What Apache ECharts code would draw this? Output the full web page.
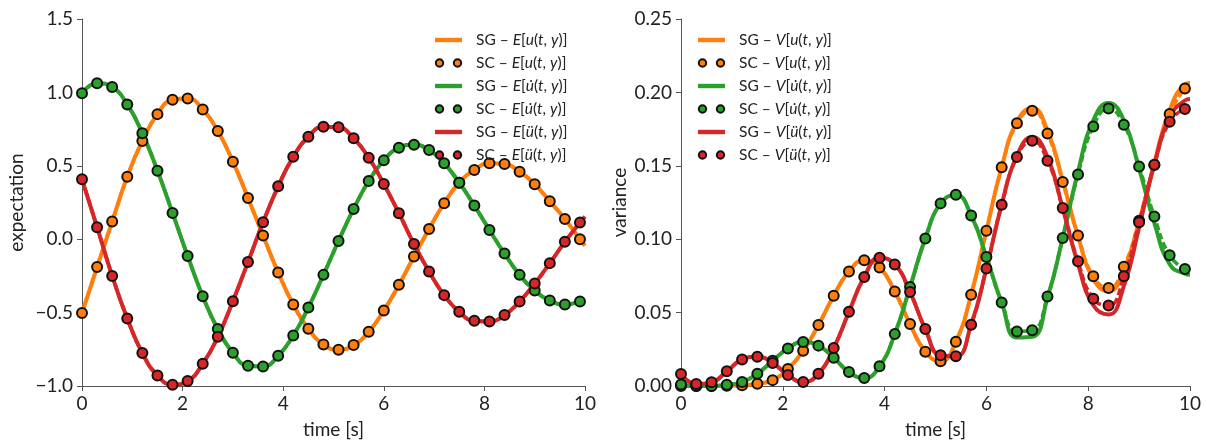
<!DOCTYPE html>
<html>
<head>
<meta charset="utf-8">
<script src="https://cdn.jsdelivr.net/npm/echarts@6/dist/echarts.min.js"></script>
<style>html,body{margin:0;padding:0;background:#fff}#c{width:1207px;height:444px}</style>
</head>
<body>
<div id="c"></div>
<script>
// time grid [s]
const time = [0,0.3,0.6,0.9,1.2,1.5,1.8,2.1,2.4,2.7,3.0,3.3,3.6,3.9,4.2,4.5,4.8,5.1,5.4,5.7,6.0,6.3,6.6,6.9,7.2,7.5,7.8,8.1,8.4,8.7,9.0,9.3,9.6,9.9,10];

// expectation (SG and SC coincide)
const expU   = [-0.503,-0.19,0.12,0.426,0.669,0.852,0.95,0.959,0.884,0.737,0.528,0.281,0.025,-0.227,-0.445,-0.61,-0.717,-0.753,-0.721,-0.631,-0.486,-0.311,-0.118,0.07,0.245,0.385,0.471,0.517,0.512,0.46,0.374,0.258,0.138,0.0,-0.045];
const expUd  = [0.995,1.063,1.036,0.918,0.721,0.467,0.179,-0.114,-0.388,-0.612,-0.773,-0.862,-0.867,-0.794,-0.656,-0.465,-0.243,-0.012,0.206,0.396,0.537,0.623,0.644,0.607,0.517,0.385,0.229,0.063,-0.098,-0.243,-0.35,-0.418,-0.445,-0.424,-0.415];
const expUdd = [0.408,0.082,-0.25,-0.54,-0.776,-0.928,-0.991,-0.966,-0.848,-0.665,-0.422,-0.156,0.115,0.36,0.561,0.698,0.766,0.762,0.687,0.555,0.376,0.177,-0.032,-0.22,-0.381,-0.495,-0.556,-0.56,-0.517,-0.424,-0.302,-0.163,-0.018,0.113,0.155];

// variance, SG (line) and SC (markers)
const varU_SG   = [0.0,0.0,0.0,0.0002,0.0005,0.0015,0.004,0.0116,0.024,0.0415,0.0615,0.078,0.0856,0.0808,0.0644,0.0422,0.0234,0.0168,0.0302,0.0622,0.1058,0.149,0.180,0.1894,0.174,0.140,0.102,0.073,0.0645,0.079,0.112,0.152,0.188,0.2055,0.2064];
const varU_SC   = [0.0,0.0,0.0,0.0002,0.0005,0.0015,0.004,0.0116,0.024,0.0415,0.0615,0.078,0.0856,0.0808,0.0644,0.0422,0.0234,0.0168,0.0302,0.0622,0.1058,0.149,0.179,0.1875,0.172,0.139,0.1026,0.0747,0.0668,0.0813,0.1126,0.1505,0.1853,0.2027];
const varUd_SG  = [0.001,0.0,0.0,0.0008,0.0027,0.0084,0.0172,0.0256,0.030,0.0275,0.0193,0.0095,0.0054,0.0134,0.0354,0.0674,0.1005,0.1244,0.1303,0.1162,0.0879,0.0569,0.033,0.0335,0.060,0.101,0.146,0.181,0.1928,0.181,0.148,0.111,0.083,0.0765,0.0758];
const varUd_SC  = [0.001,0.0,0.0,0.0008,0.0027,0.0084,0.0172,0.0256,0.030,0.0275,0.0193,0.0095,0.0054,0.0134,0.0354,0.0674,0.1005,0.1244,0.1303,0.1162,0.0879,0.0569,0.0372,0.0379,0.061,0.1008,0.144,0.1768,0.189,0.178,0.1496,0.1155,0.089,0.0797];
const varUdd_SG = [0.0082,0.0014,0.0025,0.010,0.018,0.020,0.0157,0.0075,0.0027,0.0084,0.0259,0.0505,0.0742,0.0873,0.0828,0.064,0.0388,0.0209,0.0202,0.0418,0.080,0.1235,0.157,0.1696,0.156,0.121,0.083,0.055,0.0487,0.068,0.108,0.151,0.183,0.1945,0.1955];
const varUdd_SC = [0.0082,0.0014,0.0025,0.010,0.018,0.020,0.0157,0.0075,0.0027,0.0084,0.0259,0.0505,0.0742,0.0873,0.0828,0.064,0.0388,0.0209,0.0202,0.0418,0.080,0.1235,0.156,0.167,0.1535,0.1212,0.0849,0.0595,0.0549,0.0747,0.1115,0.1508,0.18,0.1887];

const names = {
  left:  ['SG – E[u(t, y)]','SC – E[u(t, y)]','SG – E[u\u0307(t, y)]','SC – E[u\u0307(t, y)]','SG – E[u\u0308(t, y)]','SC – E[u\u0308(t, y)]'],
  right: ['SG – V[u(t, y)]','SC – V[u(t, y)]','SG – V[u\u0307(t, y)]','SC – V[u\u0307(t, y)]','SG – V[u\u0308(t, y)]','SC – V[u\u0308(t, y)]']
};
const COL = ['#ff7f0e', '#2ca02c', '#d62728'];
const FONT = 'Lato';

function pairs(vals) { return vals.map((v, i) => [time[i], v]); }

function sg(name, vals, c, ax) {
  return { type: 'line', name, data: pairs(vals), xAxisIndex: ax, yAxisIndex: ax,
    symbol: 'none', smooth: 0.5, clip: true, emphasis: { disabled: true },
    lineStyle: { color: c, width: 4 }, itemStyle: { color: c } };
}
function sc(name, vals, c, ax) {
  return { type: 'line', name, data: pairs(vals), xAxisIndex: ax, yAxisIndex: ax,
    symbol: 'circle', symbolSize: 10, showSymbol: true, smooth: 0.5, clip: true,
    emphasis: { disabled: true },
    lineStyle: { color: c, width: 3.5, type: [7, 3] },
    itemStyle: { color: c, borderColor: '#111', borderWidth: 2 } };
}

const ICON_SG = 'path://M0,0M27,10M0,2.8h27v4.4h-27Z';
const ICON_SC = 'path://M0,0M27,10M0.8,5a3.7,3.7 0 1,0 7.4,0a3.7,3.7 0 1,0 -7.4,0ZM18.8,5a3.7,3.7 0 1,0 7.4,0a3.7,3.7 0 1,0 -7.4,0Z';

function legendFmt(name) {
  const idx = name.indexOf('– ');
  const pre = name.slice(0, idx + 2);
  const math = name.slice(idx + 2);
  let out = '{n|' + pre + '}';
  const re = /([A-Za-z][\u0300-\u036f]*)|([^A-Za-z]+)/g;
  let m;
  while ((m = re.exec(math)) !== null) {
    if (m[1]) out += '{i|' + m[1] + '}';
    else out += '{n|' + m[2] + '}';
  }
  return out;
}

function legend(list, left) {
  return {
    orient: 'vertical', left, top: 31, padding: 0, itemGap: 5,
    itemWidth: 27, itemHeight: 10, selectedMode: false,
    data: list.map((n, i) => ({ name: n, icon: i % 2 === 0 ? ICON_SG : ICON_SC })),
    formatter: legendFmt,
    textStyle: { color: '#222', fontFamily: FONT, fontSize: 15.5, lineHeight: 18, padding: [0, 0, 0, 9],
      rich: {
        n: { fontFamily: FONT, fontSize: 15.5, color: '#222', lineHeight: 18 },
        i: { fontFamily: FONT, fontSize: 15.5, color: '#222', fontStyle: 'italic', lineHeight: 18 }
      } }
  };
}

const axisLine = { show: true, onZero: false, lineStyle: { color: '#555', width: 1 } };
const axisTick = { show: true, inside: false, length: 5, lineStyle: { color: '#555', width: 1 } };

function xAx(gi) {
  return { type: 'value', gridIndex: gi, min: 0, max: 10, interval: 2,
    name: 'time [s]', nameLocation: 'middle', nameGap: 34,
    nameTextStyle: { fontFamily: FONT, fontSize: 19, color: '#222' },
    axisLine, axisTick, splitLine: { show: false },
    axisLabel: { fontFamily: FONT, fontSize: 19, color: '#222', margin: 8, formatter: v => String(v) } };
}

const option = {
  animation: false,
  backgroundColor: '#fff',
  grid: [
    { left: 82, width: 503, top: 19, height: 367 },
    { left: 681, width: 509, top: 19, height: 367 }
  ],
  xAxis: [xAx(0), xAx(1)],
  yAxis: [
    { type: 'value', gridIndex: 0, min: -1, max: 1.5, interval: 0.5,
      name: 'expectation', nameLocation: 'middle', nameGap: 56,
      nameTextStyle: { fontFamily: FONT, fontSize: 19, color: '#222' },
      axisLine, axisTick, splitLine: { show: false },
      axisLabel: { fontFamily: FONT, fontSize: 19, color: '#222', margin: 9,
        formatter: v => (v < 0 ? '\u2212' : '') + Math.abs(v).toFixed(1) } },
    { type: 'value', gridIndex: 1, min: 0, max: 0.25, interval: 0.05,
      name: 'variance', nameLocation: 'middle', nameGap: 52,
      nameTextStyle: { fontFamily: FONT, fontSize: 19, color: '#222' },
      axisLine, axisTick, splitLine: { show: false },
      axisLabel: { fontFamily: FONT, fontSize: 19, color: '#222', margin: 9,
        formatter: v => v.toFixed(2) } }
  ],
  legend: [legend(names.left, 434), legend(names.right, 697)],
  series: [
    sg(names.left[0], expU, COL[0], 0),
    sc(names.left[1], expU.slice(0, 34), COL[0], 0),
    sg(names.left[2], expUd, COL[1], 0),
    sc(names.left[3], expUd.slice(0, 34), COL[1], 0),
    sg(names.left[4], expUdd, COL[2], 0),
    sc(names.left[5], expUdd.slice(0, 34), COL[2], 0),
    sg(names.right[0], varU_SG, COL[0], 1),
    sc(names.right[1], varU_SC, COL[0], 1),
    sg(names.right[2], varUd_SG, COL[1], 1),
    sc(names.right[3], varUd_SC, COL[1], 1),
    sg(names.right[4], varUdd_SG, COL[2], 1),
    sc(names.right[5], varUdd_SC, COL[2], 1)
  ]
};

const chart = echarts.init(document.getElementById('c'), null, { renderer: 'canvas' });
chart.setOption(option);
</script>
</body>
</html>
